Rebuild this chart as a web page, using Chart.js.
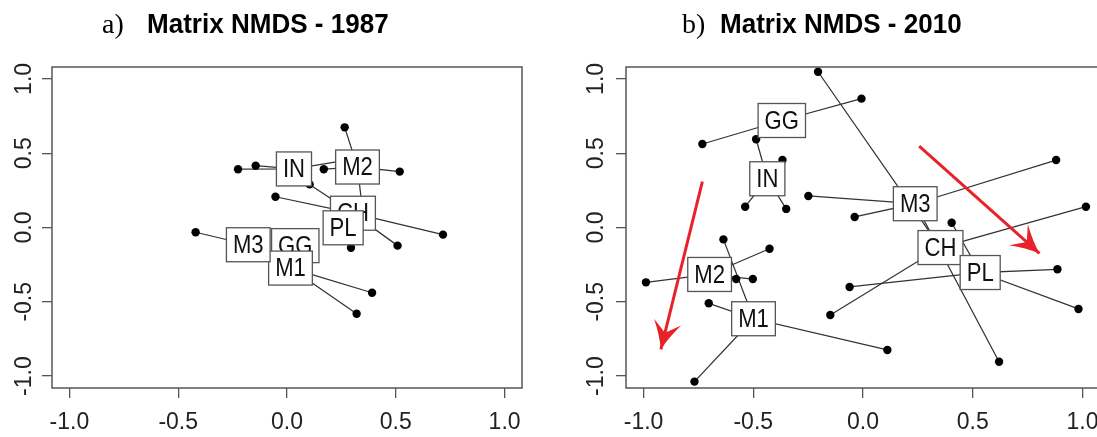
<!DOCTYPE html>
<html lang="en">
<head>
<meta charset="UTF-8">
<title>Matrix NMDS</title>
<script src="https://cdn.jsdelivr.net/npm/chart.js@4.4.0/dist/chart.umd.min.js"></script>
<style>
  html, body { margin: 0; padding: 0; background: #fff; overflow: hidden; }
  canvas { position: absolute; top: 0; }
  #chartA { left: 0; }
  #chartB { left: 550px; }
</style>
</head>
<body>
<canvas id="chartA" width="550" height="437"></canvas>
<canvas id="chartB" width="570" height="437"></canvas>
<script>
// group names, in the order the label boxes are drawn
const groups = ['CH', 'GG', 'IN', 'M1', 'M2', 'M3', 'PL'];
const tickValues = [-1, -0.5, 0, 0.5, 1];
const tickLabels = ['-1.0', '-0.5', '0.0', '0.5', '1.0'];

// 1987: group centroids (label positions) and site scores per group
const centroids1987 = [[0.303, 0.096], [0.038, -0.122], [0.032, 0.394], [0.016, -0.273], [0.324, 0.407], [-0.178, -0.116], [0.258, -0.002]];
const sites1987 = [
  [[0.104, 0.29], [-0.053, 0.207], [0.717, -0.048], [0.508, -0.122]],    // CH
  [[0.06, -0.14]],                                                      // GG
  [[-0.225, 0.392], [-0.144, 0.416], [0.365, 0.476]],                   // IN
  [[0.391, -0.439], [0.32, -0.58]],                                     // M1
  [[0.265, 0.674], [0.169, 0.392], [0.518, 0.376], [0.347, 0.118]],     // M2
  [[-0.42, -0.032]],                                                    // M3
  [[0.294, -0.136]]                                                     // PL
];

// 2010
const centroids2010 = [[0.353, -0.135], [-0.37, 0.72], [-0.436, 0.328], [-0.499, -0.614], [-0.699, -0.316], [0.238, 0.16], [0.534, -0.303]];
const sites2010 = [
  [[-0.205, 1.048], [1.016, 0.14], [-0.149, -0.589]],                          // CH
  [[-0.732, 0.562], [-0.007, 0.867]],                                           // GG
  [[-0.487, 0.594], [-0.367, 0.454], [-0.537, 0.14], [-0.35, 0.125]],           // IN
  [[-0.636, -0.08], [-0.703, -0.51], [-0.768, -1.037], [0.111, -0.824]],        // M1
  [[-0.426, -0.143], [-0.989, -0.369], [-0.578, -0.347], [-0.502, -0.347]],     // M2
  [[0.88, 0.454], [-0.249, 0.212], [-0.038, 0.071], [0.62, -0.903]],            // M3
  [[0.404, 0.032], [-0.061, -0.4], [0.886, -0.281], [0.982, -0.548]]            // PL
];

// red trend arrows in 2010 panel: [start, end]
const arrows2010 = [
  [[-0.732, 0.308], [-0.921, -0.82]],
  [[0.256, 0.548], [0.804, -0.174]]
];

const RED = '#e8222a';
const SANS = '"Liberation Sans", Arial, Helvetica, sans-serif';

function toXY(p) { return { x: p[0], y: p[1] }; }

function buildDatasets(centroids, sites, arrows) {
  const ds = [];
  arrows.forEach(a => ds.push({
    role: 'arrow', data: a.map(toXY), showLine: true, pointRadius: 0,
    borderColor: RED, borderWidth: 3, order: 0
  }));
  ds.push({
    role: 'sites', data: sites.flat().map(toXY), pointRadius: 4.2,
    backgroundColor: '#000', borderWidth: 0, order: 1
  });
  groups.forEach((g, i) => {
    const c = centroids[i];
    // star: c, p1, c, p2, c, p3 ...
    const path = sites[i].flatMap(p => [c, p]);
    ds.push({
      role: 'spider', data: path.map(toXY), showLine: true, pointRadius: 0,
      borderColor: '#333', borderWidth: 1.25, order: 2
    });
  });
  return ds;
}

function scaleOpts(yWidth) {
  const grid = { drawOnChartArea: false, drawTicks: true, tickLength: 10, color: '#555', lineWidth: 1.3 };
  const setTicks = s => { s.ticks = tickValues.map(v => ({ value: v })); };
  return {
    x: { type: 'linear', min: -1.08, max: 1.08, afterBuildTicks: setTicks,
         afterFit: s => { s.height = 49; }, grid, border: { display: false }, ticks: { display: false } },
    y: { type: 'linear', min: -1.08, max: 1.08, afterBuildTicks: setTicks,
         afterFit: s => { s.width = yWidth; }, grid, border: { display: false }, ticks: { display: false } }
  };
}

function drawArrowHead(ctx, x0, y0, x1, y1) {
  const a = Math.atan2(y1 - y0, x1 - x0);
  ctx.save();
  ctx.translate(x1, y1);
  ctx.rotate(a);
  ctx.fillStyle = RED;
  ctx.beginPath();
  ctx.moveTo(0, 0);
  ctx.quadraticCurveTo(-14, -5, -28, -14);
  ctx.lineTo(-17, 0);
  ctx.lineTo(-28, 14);
  ctx.quadraticCurveTo(-14, 5, 0, 0);
  ctx.closePath();
  ctx.fill();
  ctx.restore();
}

// text squeezed horizontally, like the reference's narrow sans
function squeezedText(ctx, text, x, y, sx) {
  ctx.save();
  ctx.translate(x, y);
  ctx.scale(sx, 1);
  ctx.fillText(text, 0, 0);
  ctx.restore();
}

function panelPlugin(cfg) {
  return {
    id: 'panel',
    afterDatasetDraw(chart, args) {
      if (chart.data.datasets[args.index].role !== 'sites') return;
      const { ctx, scales: { x, y } } = chart;
      ctx.save();
      ctx.font = '26px ' + SANS;
      ctx.textAlign = 'center';
      ctx.textBaseline = 'middle';
      groups.forEach((g, i) => {
        const px = x.getPixelForValue(cfg.centroids[i][0]);
        const py = y.getPixelForValue(cfg.centroids[i][1]);
        const w = ctx.measureText(g).width * 0.85 + 13;
        const h = 34;
        ctx.fillStyle = '#fff';
        ctx.fillRect(px - w / 2, py - h / 2, w, h);
        ctx.strokeStyle = '#555';
        ctx.lineWidth = 1.3;
        ctx.strokeRect(px - w / 2, py - h / 2, w, h);
        ctx.fillStyle = '#111';
        squeezedText(ctx, g, px, py + 1, 0.85);
      });
      ctx.restore();
    },
    afterDatasetsDraw(chart) {
      const { ctx, chartArea: ca, scales: { x, y } } = chart;
      ctx.save();
      cfg.arrows.forEach(a => {
        drawArrowHead(ctx, x.getPixelForValue(a[0][0]), y.getPixelForValue(a[0][1]),
                      x.getPixelForValue(a[1][0]), y.getPixelForValue(a[1][1]));
      });
      // plot frame
      ctx.strokeStyle = '#555';
      ctx.lineWidth = 1.5;
      ctx.strokeRect(ca.left, ca.top, ca.right - ca.left, ca.bottom - ca.top);
      // tick labels
      ctx.fillStyle = '#222';
      ctx.font = '23px ' + SANS;
      ctx.textAlign = 'center';
      ctx.textBaseline = 'middle';
      tickValues.forEach((v, i) => {
        ctx.fillText(tickLabels[i], x.getPixelForValue(v), ca.bottom + 35);
        ctx.save();
        ctx.translate(ca.left - cfg.yLabelOffset, y.getPixelForValue(v));
        ctx.rotate(-Math.PI / 2);
        ctx.fillText(tickLabels[i], 0, 0);
        ctx.restore();
      });
      // title
      ctx.fillStyle = '#000';
      ctx.textAlign = 'left';
      ctx.textBaseline = 'alphabetic';
      ctx.font = '28px "Liberation Serif", "Times New Roman", serif';
      ctx.fillText(cfg.letter, cfg.letterX, 33);
      ctx.font = 'bold 28px ' + SANS;
      squeezedText(ctx, cfg.title, cfg.titleX, 33, 0.93);
      ctx.restore();
    }
  };
}

function makeChart(id, centroids, sites, arrows, cfg) {
  new Chart(document.getElementById(id), {
    type: 'scatter',
    data: { datasets: buildDatasets(centroids, sites, arrows) },
    options: {
      responsive: false,
      animation: false,
      events: [],
      layout: { padding: { top: 67, right: cfg.padRight, left: 0, bottom: 0 } },
      scales: scaleOpts(cfg.yWidth),
      plugins: { legend: { display: false }, tooltip: { enabled: false } }
    },
    plugins: [panelPlugin(Object.assign({ centroids, arrows }, cfg))]
  });
}

makeChart('chartA', centroids1987, sites1987, [], {
  yWidth: 52, padRight: 28, yLabelOffset: 27,
  letter: 'a)', letterX: 102, title: 'Matrix NMDS - 1987', titleX: 147
});

makeChart('chartB', centroids2010, sites2010, arrows2010, {
  yWidth: 76, padRight: 20, yLabelOffset: 29,
  letter: 'b)', letterX: 132, title: 'Matrix NMDS - 2010', titleX: 170
});
</script>
</body>
</html>
